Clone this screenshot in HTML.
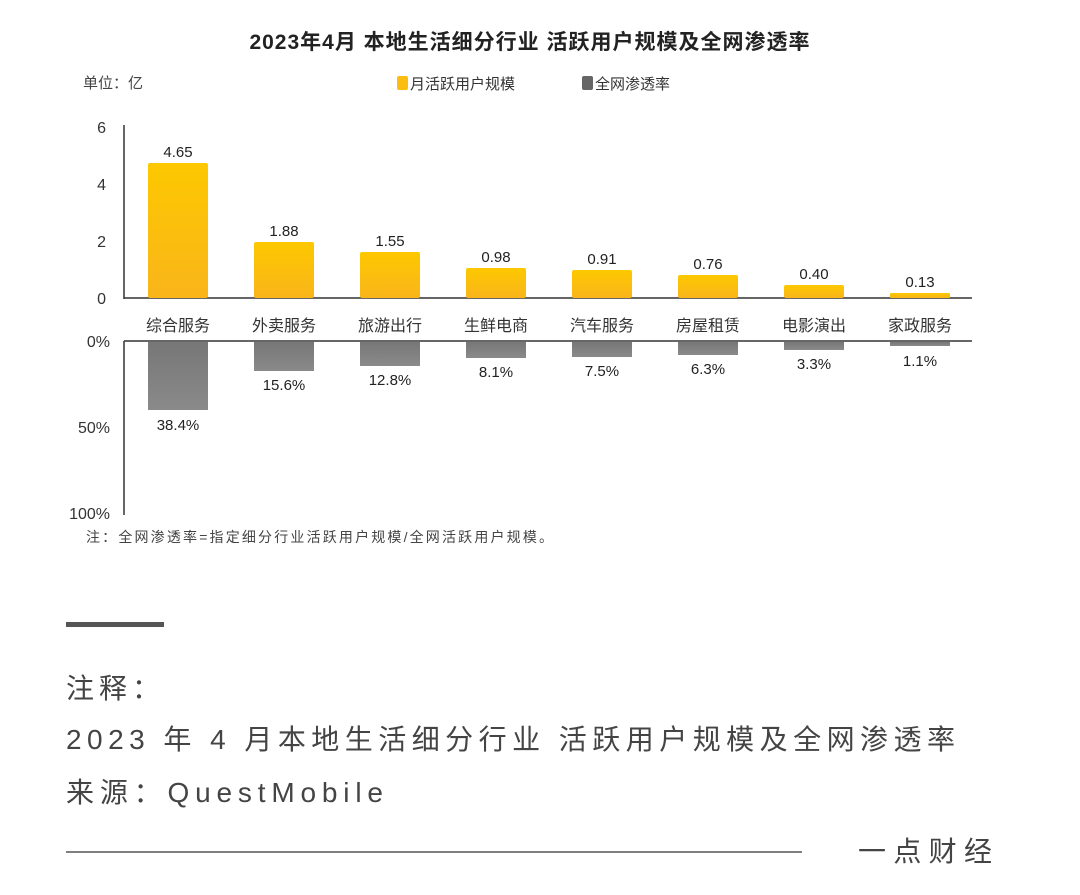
<!DOCTYPE html>
<html><head><meta charset="utf-8"><style>
body{margin:0;width:1080px;height:895px;background:#fff;overflow:hidden;font-family:"Liberation Sans","Noto Sans CJK SC",sans-serif;}
</style></head><body>
<svg width="1080" height="895" xmlns="http://www.w3.org/2000/svg" style="position:absolute;left:0;top:0">
<defs>
<linearGradient id="y" x1="0" y1="0" x2="0" y2="1"><stop offset="0" stop-color="#fdc800"/><stop offset="1" stop-color="#f9b51a"/></linearGradient>
<linearGradient id="g" x1="0" y1="0" x2="0" y2="1"><stop offset="0" stop-color="#777"/><stop offset="1" stop-color="#8a8a8a"/></linearGradient>
</defs>
<g font-family="Liberation Sans, Noto Sans CJK SC, sans-serif">
<text x="530" y="49" text-anchor="middle" font-size="21" font-weight="bold" fill="#222" letter-spacing="1">2023年4月 本地生活细分行业 活跃用户规模及全网渗透率</text>
<text x="83" y="88" font-size="15" fill="#444">单位：亿</text>
<rect x="397" y="76" width="11" height="14" rx="2" fill="#fbbd10"/>
<text x="410" y="89" font-size="15" fill="#333">月活跃用户规模</text>
<rect x="582" y="76" width="11" height="14" rx="2" fill="#666"/>
<text x="595" y="89" font-size="15" fill="#333">全网渗透率</text>
<g font-size="16" fill="#333" text-anchor="end">
<text x="106" y="133">6</text><text x="106" y="190">4</text><text x="106" y="247">2</text><text x="106" y="304">0</text>
<text x="110" y="347">0%</text><text x="110" y="433">50%</text><text x="110" y="519">100%</text>
</g>
<line x1="124" y1="125" x2="124" y2="299" stroke="#333" stroke-width="1.5"/>
<line x1="124" y1="298" x2="972" y2="298" stroke="#333" stroke-width="1.5"/>
<line x1="124" y1="341" x2="124" y2="515" stroke="#333" stroke-width="1.5"/>
<line x1="124" y1="341" x2="972" y2="341" stroke="#333" stroke-width="1.5"/>
<g fill="url(#y)">
<rect x="148" y="163" width="60" height="135" rx="2"/>
<rect x="254" y="242" width="60" height="56" rx="2"/>
<rect x="360" y="252" width="60" height="46" rx="2"/>
<rect x="466" y="268" width="60" height="30" rx="2"/>
<rect x="572" y="270" width="60" height="28" rx="2"/>
<rect x="678" y="275" width="60" height="23" rx="2"/>
<rect x="784" y="285" width="60" height="13" rx="2"/>
<rect x="890" y="293" width="60" height="5" rx="1"/>
</g>
<g fill="url(#g)">
<rect x="148" y="342" width="60" height="68"/>
<rect x="254" y="342" width="60" height="29"/>
<rect x="360" y="342" width="60" height="24"/>
<rect x="466" y="342" width="60" height="16"/>
<rect x="572" y="342" width="60" height="15"/>
<rect x="678" y="342" width="60" height="13"/>
<rect x="784" y="342" width="60" height="8"/>
<rect x="890" y="342" width="60" height="4"/>
</g>
<g font-size="15" fill="#222" text-anchor="middle">
<text x="178" y="157">4.65</text><text x="284" y="236">1.88</text><text x="390" y="246">1.55</text><text x="496" y="262">0.98</text>
<text x="602" y="264">0.91</text><text x="708" y="269">0.76</text><text x="814" y="279">0.40</text><text x="920" y="287">0.13</text>
<text x="178" y="430">38.4%</text><text x="284" y="390">15.6%</text><text x="390" y="385">12.8%</text><text x="496" y="377">8.1%</text>
<text x="602" y="376">7.5%</text><text x="708" y="374">6.3%</text><text x="814" y="369">3.3%</text><text x="920" y="366">1.1%</text>
</g>
<g font-size="16" fill="#333" text-anchor="middle">
<text x="178" y="331">综合服务</text><text x="284" y="331">外卖服务</text><text x="390" y="331">旅游出行</text><text x="496" y="331">生鲜电商</text>
<text x="602" y="331">汽车服务</text><text x="708" y="331">房屋租赁</text><text x="814" y="331">电影演出</text><text x="920" y="331">家政服务</text>
</g>
<text x="86" y="542" font-size="14" fill="#444" textLength="467">注：全网渗透率=指定细分行业活跃用户规模/全网活跃用户规模。</text>
<rect x="66" y="622" width="98" height="5" fill="#555"/>
<g font-size="28" fill="#444">
<text x="66" y="698" letter-spacing="5">注释：</text>
<text x="66" y="749" textLength="889">2023 年 4 月本地生活细分行业 活跃用户规模及全网渗透率</text>
<text x="66" y="802" textLength="317">来源：QuestMobile</text>
</g>
<line x1="66" y1="852" x2="802" y2="852" stroke="#555" stroke-width="1.5"/>
<text x="858" y="861" font-size="28" fill="#444" textLength="134">一点财经</text>
</g>
</svg>
</body></html>
